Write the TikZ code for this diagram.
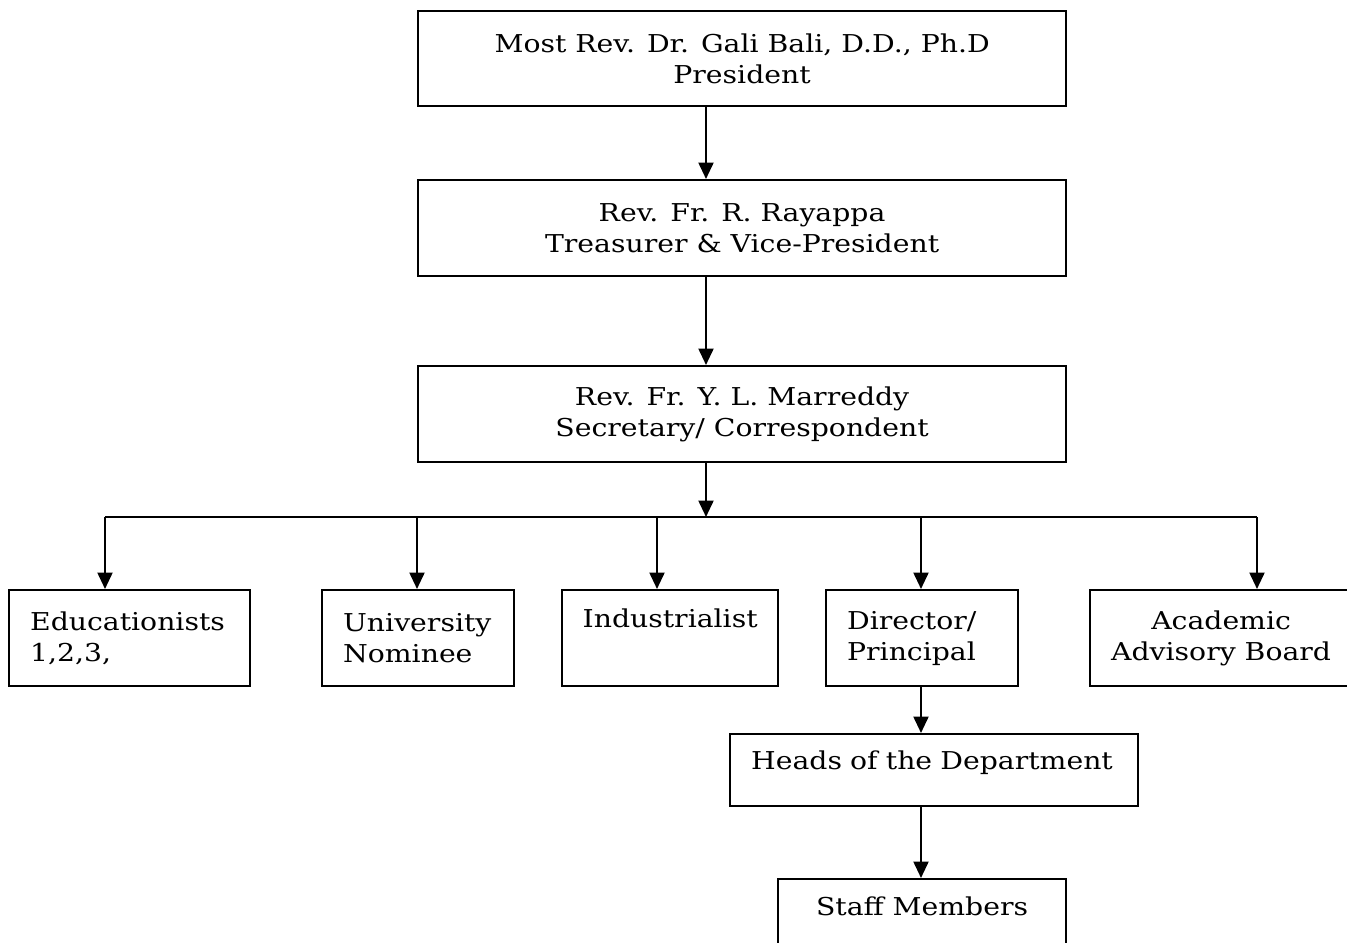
\documentclass[tikz,border=0pt]{standalone}
\usepackage{fontspec}
\setmainfont{DejaVu Serif}[FakeStretch=1.15]
\usetikzlibrary{arrows.meta}

\tikzset{
	box/.style={draw,line width=1.3pt,anchor=north west,inner sep=0pt,minimum height=1.92cm},
	lbox/.style={box,align=left,text width=#1},
	cbox/.style={box,align=center},
	arr/.style={line width=1.3pt,-{Triangle[length=0.33cm,width=0.3cm]}},
	bus/.style={line width=1.3pt}
}

\begin{document}
\begin{tikzpicture}[x=0.02cm,y=-0.02cm,font=\fontsize{14}{17.6}\selectfont]
	\useasboundingbox (0,0) rectangle (1347,943);
	\clip (0,0) rectangle (1347,943);

	%top boxes
	\node[cbox,minimum width=12.96cm,minimum height=1.9cm] (pres) at (417,10) {Most Rev. Dr. Gali Bali, D.D., Ph.D\\President}; %president
	\node[cbox,minimum width=12.96cm] (treas) at (417,179) {Rev. Fr. R. Rayappa\\Treasurer \& Vice-President}; %treasurer
	\node[cbox,minimum width=12.96cm] (sec) at (417,365) {Rev. Fr. Y. L. Marreddy\\Secretary/ Correspondent}; %secretary

	%members
	\node[lbox=3.98cm,minimum width=4.82cm] (edu) at (8,589) {Educationists\\1,2,3,}; %educationists
	\node[lbox=3.0cm,minimum width=3.84cm] (uni) at (321,589) {University\\Nominee}; %university
	\node[lbox=3.5cm,minimum width=4.32cm] (ind) at (561,589) {Industrialist\\\strut}; %industrialist
	\node[lbox=3.0cm,minimum width=3.84cm] (dir) at (825,589) {Director/\\Principal}; %director
	\node[cbox,minimum width=5.24cm] (acad) at (1089,589) {Academic\\Advisory Board}; %board

	%departments
	\node[lbox=7.32cm,minimum height=1.44cm,minimum width=8.16cm,text depth=0.4cm] (heads) at (729,733) {Heads of the Department}; %heads
	\node[cbox,minimum width=5.76cm,minimum height=1.6cm,text depth=0.5cm] (staff) at (777,878) {Staff Members}; %staff

	%spine and bus
	\coordinate (spine) at (706,517);
	\coordinate (d1) at (105,517);
	\coordinate (d2) at (417,517);
	\coordinate (d3) at (657,517);
	\coordinate (d4) at (921,517);
	\coordinate (d5) at (1257,517);

	%arrows
	\draw[arr] (pres.south -| spine) -- (treas.north -| spine);
	\draw[arr] (treas.south -| spine) -- (sec.north -| spine);
	\draw[arr] (sec.south -| spine) -- (spine);
	\draw[bus] (d1) -- (d5); %bus line
	\draw[arr] (d1) -- (d1 |- edu.north);
	\draw[arr] (d2) -- (d2 |- uni.north);
	\draw[arr] (d3) -- (d3 |- ind.north);
	\draw[arr] (d4) -- (d4 |- dir.north);
	\draw[arr] (d5) -- (d5 |- acad.north);
	\draw[arr] (dir.south -| d4) -- (heads.north -| d4);
	\draw[arr] (heads.south -| d4) -- (staff.north -| d4);
\end{tikzpicture}
\end{document}
